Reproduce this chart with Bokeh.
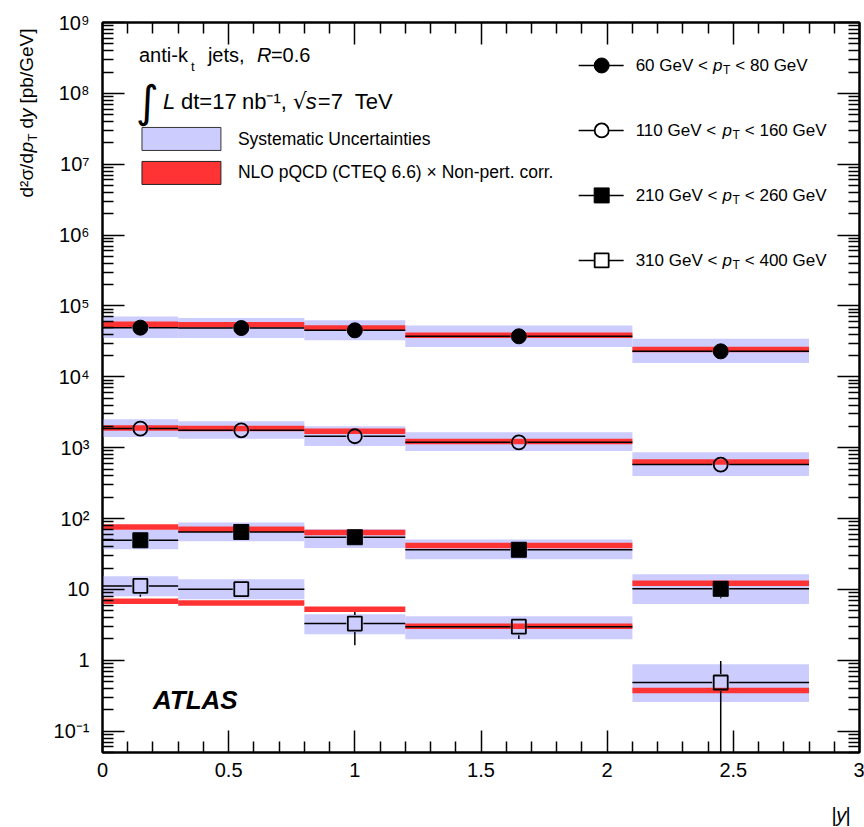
import math
from bokeh.plotting import figure
from bokeh.layouts import row, column
from bokeh.models import (FixedTicker, LinearAxis, LogAxis, Range1d, Label, BoxAnnotation)
from bokeh.embed import file_html
from bokeh.resources import INLINE

# ---------------- data ----------------
bin_lo = [0.0, 0.3, 0.8, 1.2, 2.1]
bin_hi = [0.3, 0.8, 1.2, 2.1, 2.8]
y_mid = [0.15, 0.55, 1.0, 1.65, 2.45]

# 60 GeV < pT < 80 GeV (filled circles)
xs_60_80 = [49400, 48800, 45300, 37300, 22900]
sys_lo_60_80 = [35300, 35300, 32700, 26300, 15700]
sys_hi_60_80 = [71300, 67400, 62700, 53200, 34600]
nlo_60_80 = [55000, 54500, 49000, 38500, 24400]
stat_lo_60_80 = [48000, 47400, 44000, 36300, 22100]
stat_hi_60_80 = [50800, 50200, 46600, 38300, 23700]

# 110 GeV < pT < 160 GeV (open circles)
xs_110_160 = [1860, 1760, 1450, 1190, 578]
sys_lo_110_160 = [1420, 1340, 1060, 898, 399]
sys_hi_110_160 = [2520, 2360, 2000, 1650, 861]
nlo_110_160 = [1900, 1860, 1700, 1220, 628]
stat_lo_110_160 = [1800, 1700, 1400, 1150, 555]
stat_hi_110_160 = [1920, 1820, 1500, 1230, 600]

# 210 GeV < pT < 260 GeV (filled squares)
xs_210_260 = [49.4, 64.7, 54.5, 36.3, 10.2]
sys_lo_210_260 = [36.9, 47.9, 38.5, 26.7, 6.25]
sys_hi_210_260 = [70.0, 87.9, 70.6, 50.6, 16.4]
nlo_210_260 = [76.2, 70.6, 63.5, 41.6, 12.2]
stat_lo_210_260 = [45.0, 60.0, 50.0, 33.5, 7.5]
stat_hi_210_260 = [54.0, 69.5, 59.0, 39.0, 12.8]

# 310 GeV < pT < 400 GeV (open squares)
xs_310_400 = [11.2, 10.1, 3.30, 2.98, 0.486]
sys_lo_310_400 = [8.02, 7.28, 2.33, 1.98, 0.259]
sys_hi_310_400 = [15.3, 13.9, 4.47, 4.19, 0.881]
nlo_310_400 = [6.82, 6.46, 5.26, 3.03, 0.375]
stat_lo_310_400 = [7.9, 8.6, 1.63, 2.0, 0.001]
stat_hi_310_400 = [14.0, 11.8, 4.82, 3.6, 0.98]

legend_labels = [("60 GeV <", "< 80 GeV"), ("110 GeV <", "< 160 GeV"),
                 ("210 GeV <", "< 260 GeV"), ("310 GeV <", "< 400 GeV")]

x_ticks = [0, 0.5, 1, 1.5, 2, 2.5, 3]
x_tick_labels = ["0", "0.5", "1", "1.5", "2", "2.5", "3"]
y_ticks = [0.1, 1, 10, 1e2, 1e3, 1e4, 1e5, 1e6, 1e7, 1e8, 1e9]
y_tick_labels = ["10⁻¹", "1", "10", "10²", "10³", "10⁴", "10⁵", "10⁶", "10⁷", "10⁸", "10⁹"]

# ---------------- geometry ----------------
TOTAL_H = 827
SH = 30                      # bottom strip holding the x-axis title
H = TOTAL_H - SH
LW = 50                      # narrow panel holding the y-axis title
W = 864 - LW
FRAME_BOTTOM = 752
ML, MR, MT, MB = 101 - LW, 5, 22, H - FRAME_BOTTOM
FW, FH = W - ML - MR, H - MT - MB
YMIN, YMAX = 0.05, 1e9
PX_DEC = FH / (math.log10(YMAX) - math.log10(YMIN))
FONT = "Liberation Sans"

p = figure(width=W, height=H, output_backend="svg", toolbar_location=None,
           x_range=Range1d(0, 3), y_range=Range1d(YMIN, YMAX), y_axis_type="log",
           min_border_left=ML, min_border_right=MR, min_border_top=MT, min_border_bottom=MB,
           x_axis_location=None, y_axis_location=None)
p.grid.visible = False
p.outline_line_color = "black"
p.outline_line_width = 2
p.background_fill_color = "white"
p.border_fill_color = "white"

x_minor = [round(0.1 * i, 1) for i in range(31) if i % 5 != 0]
y_minor = []
for e in range(-2, 9):
    for m in range(2, 10):
        v = m * 10 ** e
        if YMIN <= v <= YMAX:
            y_minor.append(v)

def style_axis(ax, ticks, minor, labels=None):
    ax.ticker = FixedTicker(ticks=ticks, minor_ticks=minor)
    ax.axis_line_width = 2
    ax.major_tick_in = 22
    ax.major_tick_out = 0
    ax.minor_tick_in = 11
    ax.minor_tick_out = 0
    ax.major_tick_line_width = 1.5
    ax.minor_tick_line_width = 1.5
    if labels is None:
        ax.major_label_text_font_size = "1px"
        ax.major_label_text_alpha = 0
        ax.major_label_standoff = 0
    else:
        ax.major_label_overrides = labels
        ax.major_label_text_font = FONT
        ax.major_label_text_font_size = "20px"
        ax.major_label_text_color = "black"

xb = LinearAxis()
style_axis(xb, x_ticks, x_minor, {t: l for t, l in zip(x_ticks, x_tick_labels)})
xb.major_label_standoff = 10
p.add_layout(xb, "below")
xt = LinearAxis()
style_axis(xt, x_ticks, x_minor)
p.add_layout(xt, "above")
yl = LogAxis()
style_axis(yl, y_ticks, y_minor, {t: l for t, l in zip(y_ticks, y_tick_labels)})
yl.major_label_standoff = 13
p.add_layout(yl, "left")
yr = LogAxis()
style_axis(yr, y_ticks, y_minor)
p.add_layout(yr, "right")

# ---------------- marks ----------------
SYS = "#ccccff"
RED = "#ff3333"
MS = 15
gx = 8.5 * 3 / FW          # half-marker gap in x data units
gy = 10 ** (8.5 / PX_DEC)  # half-marker gap (factor) in log-y

series = [
    (xs_60_80, sys_lo_60_80, sys_hi_60_80, nlo_60_80, stat_lo_60_80, stat_hi_60_80, "circle", True),
    (xs_110_160, sys_lo_110_160, sys_hi_110_160, nlo_110_160, stat_lo_110_160, stat_hi_110_160, "circle", False),
    (xs_210_260, sys_lo_210_260, sys_hi_210_260, nlo_210_260, stat_lo_210_260, stat_hi_210_260, "square", True),
    (xs_310_400, sys_lo_310_400, sys_hi_310_400, nlo_310_400, stat_lo_310_400, stat_hi_310_400, "square", False),
]

for vals, slo, shi, nlo, stlo, sthi, mk, filled in series:
    p.quad(left=bin_lo, right=bin_hi, bottom=slo, top=shi, fill_color=SYS, line_color=None)
for vals, slo, shi, nlo, stlo, sthi, mk, filled in series:
    p.segment(x0=bin_lo, x1=bin_hi, y0=nlo, y1=nlo, line_color=RED, line_width=5.5, line_cap="butt")
for vals, slo, shi, nlo, stlo, sthi, mk, filled in series:
    p.segment(x0=bin_lo, x1=[x - gx for x in y_mid], y0=vals, y1=vals, line_color="black", line_width=1.5)
    p.segment(x0=[x + gx for x in y_mid], x1=bin_hi, y0=vals, y1=vals, line_color="black", line_width=1.5)
    up0, up1, dn0, dn1, ux, dx = [], [], [], [], [], []
    for x, v, lo, hi in zip(y_mid, vals, stlo, sthi):
        if hi > v * gy:
            ux.append(x); up0.append(v * gy); up1.append(hi)
        if lo < v / gy:
            dx.append(x); dn0.append(v / gy); dn1.append(lo)
    if ux:
        p.segment(x0=ux, x1=ux, y0=up0, y1=up1, line_color="black", line_width=1.5)
    if dx:
        p.segment(x0=dx, x1=dx, y0=dn0, y1=dn1, line_color="black", line_width=1.5)
    if filled:
        p.scatter(y_mid, vals, marker=mk, size=MS, fill_color="black", line_color="black")
    else:
        p.scatter(y_mid, vals, marker=mk, size=MS - 1, fill_alpha=0, line_color="black", line_width=1.8)

# ---------------- decoration (positions in reference page pixels) ----------------
REF_L, REF_R, REF_T = 101.5, 859.0, 22.0
REF_DEC = 70.9

def px2x(px):
    return (px - REF_L) / (REF_R - REF_L) * 3.0

def py2y(py):
    return 10 ** (9 - (py - REF_T) / REF_DEC)

def txt(px, py, s_, size, style="normal", align="left", font=FONT):
    p.add_layout(Label(x=px2x(px), y=py2y(py), text=s_, text_font=font, text_font_size=f"{size}px",
                       text_font_style=style, text_align=align, text_baseline="middle",
                       text_color="black"))

# right legend
F = 17
leg_rows = [65, 130, 195, 260]
leg_mk = [("circle", True), ("circle", False), ("square", True), ("square", False)]
for (mk, filled), py, (a, b) in zip(leg_mk, leg_rows, legend_labels):
    yv = py2y(py)
    p.segment(x0=[px2x(578)], x1=[px2x(623)], y0=[yv], y1=[yv], line_color="black", line_width=1.5)
    if filled:
        p.scatter([px2x(601)], [yv], marker=mk, size=MS, fill_color="black", line_color="black")
    else:
        p.scatter([px2x(601)], [yv], marker=mk, size=MS - 1, fill_color="white", line_color="black", line_width=1.8)
    ndig = len(a.split()[0])
    x0 = 635
    xp = x0 + (ndig * 0.556 + 3.141) * F + 0.3 * F
    xT = xp + 0.556 * F + 0.5
    xb2 = xT + 0.611 * 12 + 0.3 * F
    txt(x0, py, a, F)
    txt(xp, py, "p", F, "italic")
    txt(xT, py + 5, "T", 12)
    txt(xb2, py, b, F)

# left legend boxes
p.add_layout(BoxAnnotation(left=px2x(141), right=px2x(220), top=py2y(127), bottom=py2y(150),
                           fill_color=SYS, fill_alpha=1, line_color="#333333", line_alpha=1, line_width=1))
p.add_layout(BoxAnnotation(left=px2x(141), right=px2x(220), top=py2y(161), bottom=py2y(184),
                           fill_color=RED, fill_alpha=1, line_color="#222222", line_alpha=1, line_width=1))
txt(237, 139, "Systematic Uncertainties", 17.5)
txt(237, 172, "NLO pQCD (CTEQ 6.6) × Non-pert. corr.", 17.5)

# header texts
txt(138, 55, "anti-k", 20)
txt(190, 66, "t", 13)
txt(207, 55, "jets,", 20)
txt(256, 55, "R", 20, "italic")
txt(270, 55, "=0.6", 20)
txt(135, 101, "∫", 44, font="DejaVu Sans")
txt(162, 101, "L", 22, "italic")
txt(180, 101, "dt=17", 22)
txt(241, 101, "nb⁻¹,", 22)
txt(292, 101, "√", 22, font="DejaVu Sans")
txt(305, 101, "s", 22, "italic")
txt(317, 101, "=7", 22)
txt(354, 101, "TeV", 22)

# ATLAS
txt(152, 700, "ATLAS", 26, "bold italic")

# ---------------- y-axis title panel ----------------
q = figure(width=LW, height=TOTAL_H, output_backend="svg", toolbar_location=None,
           x_range=Range1d(0, LW), y_range=Range1d(0, TOTAL_H),
           min_border_left=0, min_border_right=0, min_border_top=0, min_border_bottom=0,
           x_axis_location=None, y_axis_location=None)
q.grid.visible = False
q.outline_line_color = None
q.background_fill_color = "white"
q.border_fill_color = "white"

def vtxt(px, py, s_, size, style="normal"):
    q.add_layout(Label(x=px, y=TOTAL_H - py, text=s_, text_font=FONT, text_font_size=f"{size}px",
                       text_font_style=style, text_align="left", text_baseline="middle",
                       angle=math.pi / 2, text_color="black"))

vtxt(26, 197, "d²σ/d", 19)
vtxt(26, 152, "p", 19, "italic")
vtxt(32, 141, "T", 13)
vtxt(26, 128, "d", 19)
vtxt(26, 117.5, "y", 19, "italic")
vtxt(26, 103, "[pb/GeV]", 19)

# ---------------- x-axis title strip ----------------
s = figure(width=W, height=SH, output_backend="svg", toolbar_location=None,
           x_range=Range1d(0, W), y_range=Range1d(0, SH),
           min_border_left=0, min_border_right=0, min_border_top=0, min_border_bottom=0,
           x_axis_location=None, y_axis_location=None)
s.grid.visible = False
s.outline_line_color = None
s.background_fill_color = "white"
s.border_fill_color = "white"

def stxt(px, py, s_, size, style="normal"):
    s.add_layout(Label(x=px - LW, y=TOTAL_H - py, text=s_, text_font=FONT, text_font_size=f"{size}px",
                       text_font_style=style, text_align="left", text_baseline="middle",
                       text_color="black"))

stxt(834, 814, "|", 20)
stxt(839, 814, "y", 20, "italic")
stxt(849, 814, "|", 20)

layout = row(q, column(p, s, spacing=0), spacing=0)
open("out.html", "w").write(file_html(layout, INLINE))
